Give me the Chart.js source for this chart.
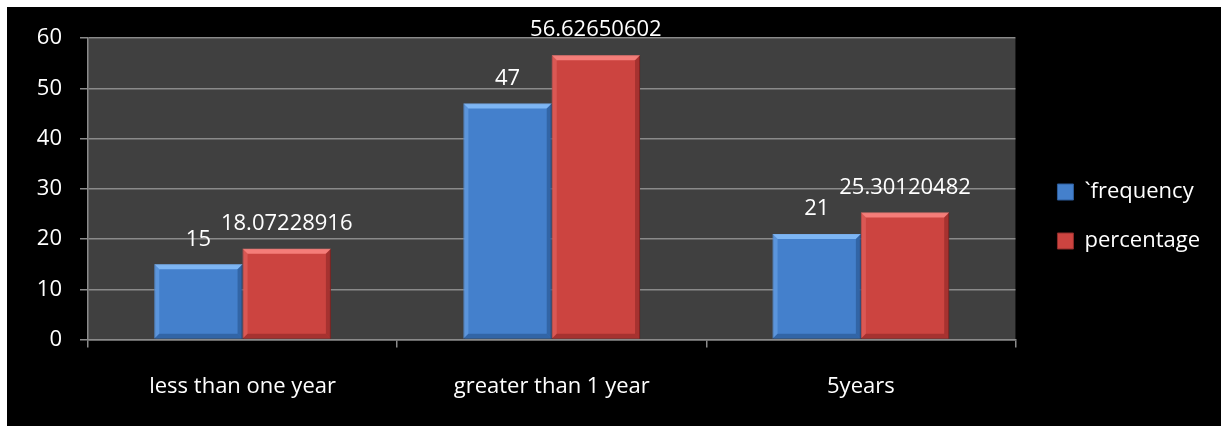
<!DOCTYPE html>
<html>
<head>
<meta charset="utf-8">
<script src="https://cdn.jsdelivr.net/npm/chart.js@4.4.1/dist/chart.umd.min.js"></script>
<style>
  html, body { margin: 0; padding: 0; background: #000000; overflow: hidden; }
  #topStrip { position: absolute; left: 0; top: 0; width: 100%; height: 7px; background: #ffffff; }
  #leftStrip { position: absolute; left: 0; top: 0; width: 7px; height: 100%; background: #ffffff; }
  #c { position: absolute; left: 7px; top: 7px; background: #000000; }
</style>
</head>
<body>
<div id="topStrip"></div>
<div id="leftStrip"></div>
<canvas id="c" width="1214" height="419" style="width:1214px;height:419px"></canvas>
<script>
const categories = ["less than one year", "greater than 1 year", "5years"];
const frequency = [15, 47, 21];
const percentage = [18.07228916, 56.62650602, 25.30120482];
const seriesNames = ["`frequency", "percentage"];
const yTicks = [0, 10, 20, 30, 40, 50, 60];

const FONT = "'Open Sans', 'Noto Sans', sans-serif";
const GRID = '#8a8a8a';

function bevel(ctx, x0, x1, y0, y1, b, light, dark, lighter) {
  ctx.fillStyle = lighter;
  ctx.beginPath(); ctx.moveTo(x0, y0); ctx.lineTo(x1, y0); ctx.lineTo(x1 - b, y0 + b); ctx.lineTo(x0 + b, y0 + b); ctx.closePath(); ctx.fill();
  ctx.fillStyle = light;
  ctx.beginPath(); ctx.moveTo(x0, y0); ctx.lineTo(x0 + b, y0 + b); ctx.lineTo(x0 + b, y1 - b); ctx.lineTo(x0, y1); ctx.closePath(); ctx.fill();
  ctx.fillStyle = dark;
  ctx.beginPath(); ctx.moveTo(x1, y0); ctx.lineTo(x1, y1); ctx.lineTo(x1 - b, y1 - b); ctx.lineTo(x1 - b, y0 + b); ctx.closePath(); ctx.fill();
  ctx.beginPath(); ctx.moveTo(x0, y1); ctx.lineTo(x0 + b, y1 - b); ctx.lineTo(x1 - b, y1 - b); ctx.lineTo(x1, y1); ctx.closePath(); ctx.fill();
}

const styles = [
  { face: '#4480cc', light: 'rgba(120,175,240,0.45)', lighter: 'rgba(140,195,255,0.8)', dark: 'rgba(25,60,110,0.4)', border: '#2d5d9c' },
  { face: '#cc4440', light: 'rgba(240,120,115,0.4)', lighter: 'rgba(255,140,135,0.8)', dark: 'rgba(110,25,25,0.4)', border: '#8e2c2a' }
];

const plotBg = {
  id: 'plotBg',
  beforeDraw(chart) {
    const { ctx, chartArea: a } = chart;
    ctx.save();
    ctx.fillStyle = '#404040';
    ctx.fillRect(a.left, a.top, a.right - a.left, a.bottom - a.top);
    ctx.restore();
  }
};

const barDeco = {
  id: 'barDeco',
  afterDatasetsDraw(chart) {
    const ctx = chart.ctx;
    ctx.save();
    chart.data.datasets.forEach((ds, di) => {
      const meta = chart.getDatasetMeta(di);
      const st = styles[di];
      meta.data.forEach((bar, i) => {
        const x0 = bar.x - bar.width / 2, x1 = bar.x + bar.width / 2;
        const y0 = bar.y, y1 = bar.base;
        bevel(ctx, x0, x1, y0, y1, 5, st.light, st.dark, st.lighter);
        ctx.fillStyle = '#ffffff';
        ctx.font = "22px " + FONT;
        ctx.textAlign = 'center';
        ctx.textBaseline = 'bottom';
        ctx.fillText(String(ds.data[i]), bar.x, y0 - 14);
      });
    });
    ctx.restore();
  }
};

new Chart(document.getElementById('c'), {
  type: 'bar',
  data: {
    labels: categories,
    datasets: [
      { label: seriesNames[0], data: frequency, backgroundColor: styles[0].face, borderColor: styles[0].border, borderWidth: 1 },
      { label: seriesNames[1], data: percentage, backgroundColor: styles[1].face, borderColor: styles[1].border, borderWidth: 1 }
    ]
  },
  options: {
    responsive: false,
    maintainAspectRatio: false,
    animation: false,
    devicePixelRatio: 1,
    layout: { padding: { top: 0, bottom: 0, left: 0, right: 11 } },
    datasets: { bar: { categoryPercentage: 0.5714, barPercentage: 1.0 } },
    plugins: {
      tooltip: { enabled: false },
      legend: {
        position: 'right',
        labels: {
          color: '#ffffff',
          font: { family: FONT, size: 22 },
          boxWidth: 16,
          boxHeight: 16,
          padding: 27
        }
      }
    },
    scales: {
      x: {
        offset: true,
        grid: { display: true, offset: true, drawOnChartArea: false, drawTicks: true, tickLength: 8, color: GRID, lineWidth: 1.5 },
        border: { display: true, color: GRID, width: 1.5 },
        ticks: { color: '#ffffff', font: { family: FONT, size: 22 }, padding: 26, maxRotation: 0 }
      },
      y: {
        min: 0, max: 60,
        afterBuildTicks: (s) => { s.ticks = yTicks.map(v => ({ value: v })); },
        afterFit: (s) => { s.width = 81; },
        grid: { color: GRID, lineWidth: 1.5, tickLength: 8, drawTicks: true },
        border: { display: true, color: GRID, width: 1.5 },
        ticks: { color: '#ffffff', font: { family: FONT, size: 22 }, padding: 18 }
      },
      gap: {
        type: 'linear',
        axis: 'y',
        position: 'right',
        display: true,
        grid: { display: false, drawTicks: false },
        border: { display: false },
        ticks: { display: false },
        afterFit: (s) => { s.width = 15; }
      },
      gapTop: {
        type: 'linear',
        axis: 'x',
        position: 'top',
        display: true,
        grid: { display: false, drawTicks: false },
        border: { display: false },
        ticks: { display: false },
        afterFit: (s) => { s.height = 30; }
      }
    }
  },
  plugins: [plotBg, barDeco]
});
</script>
</body>
</html>
